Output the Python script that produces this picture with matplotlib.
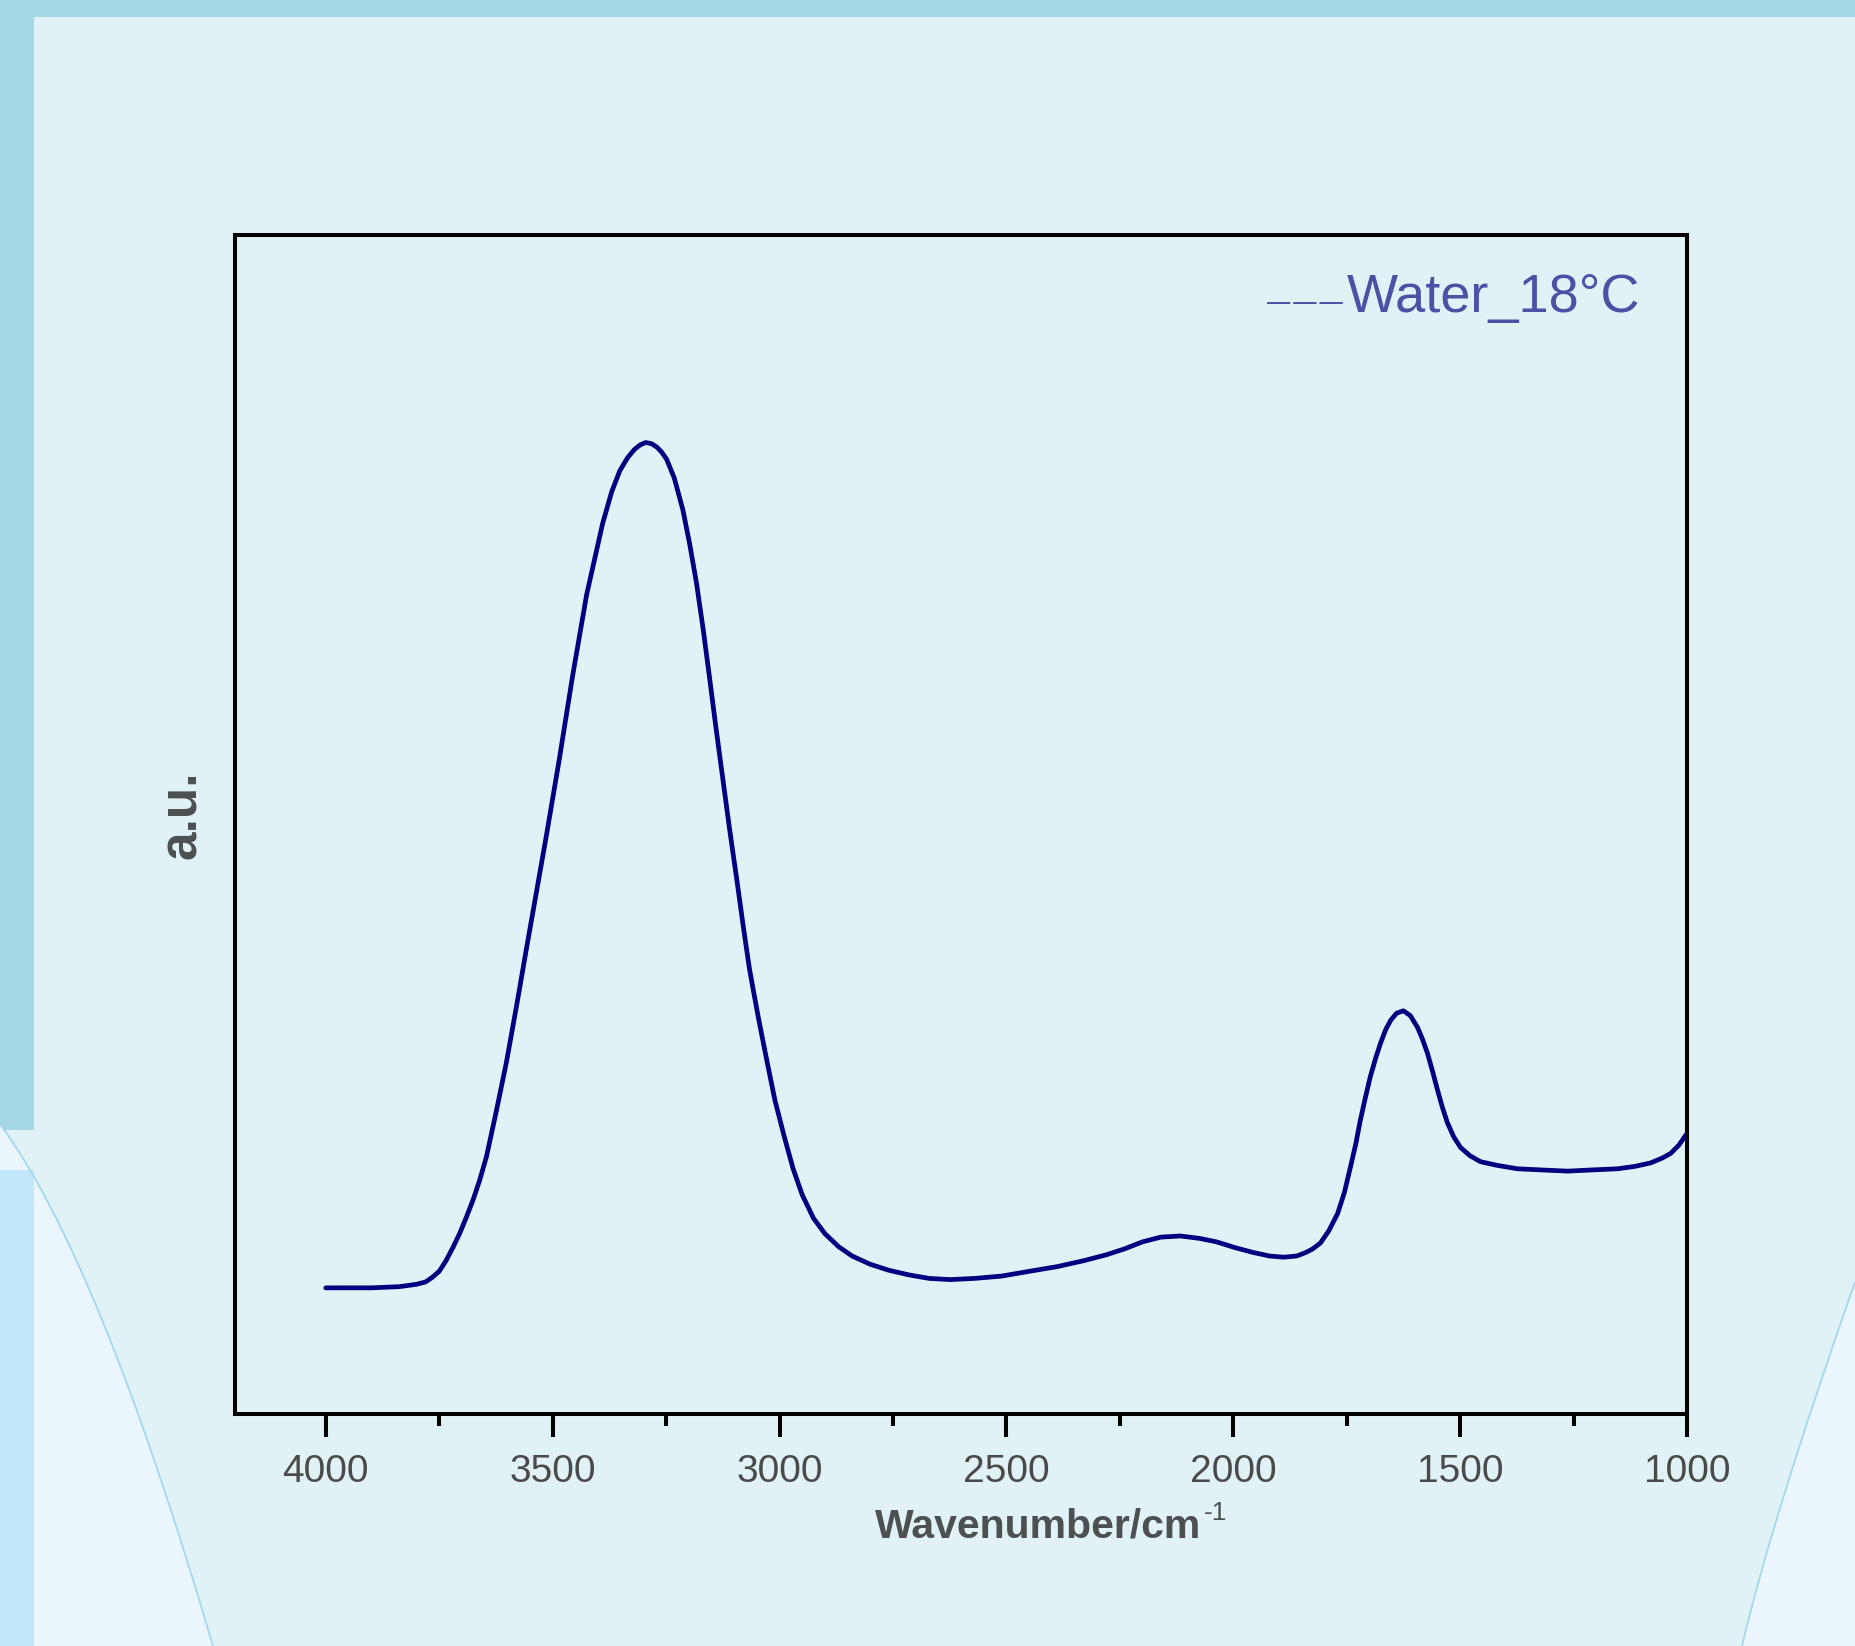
import matplotlib
matplotlib.use("Agg")
import matplotlib.pyplot as plt
from matplotlib.patches import PathPatch, Rectangle
from matplotlib.path import Path

# ---------------- data ----------------
wavenumber = [4000, 3900, 3838, 3800, 3780, 3765, 3750, 3735, 3720, 3705,
              3690, 3675, 3661, 3646, 3624, 3602, 3580, 3558, 3536, 3514,
              3485, 3456, 3425, 3390,
              3370, 3352, 3335, 3320, 3307, 3295, 3282, 3270, 3260, 3249,
              3232, 3213, 3198, 3183, 3168, 3154, 3140, 3125, 3110, 3094,
              3080, 3066, 3047, 3028, 3010, 2990, 2970, 2950, 2925, 2900,
              2870, 2840, 2800, 2760, 2715, 2670, 2624, 2570, 2510, 2450,
              2388, 2330, 2280, 2240, 2200, 2160, 2117, 2075, 2037, 1995,
              1956, 1920, 1889, 1860, 1840, 1825, 1808, 1790, 1770, 1755,
              1742, 1730, 1720, 1709, 1698, 1686, 1675, 1664, 1653, 1640,
              1625, 1610, 1594, 1583, 1572, 1561, 1550, 1539, 1528, 1514,
              1499, 1478, 1455, 1420, 1374, 1320, 1263, 1210, 1153, 1115,
              1080, 1055, 1036, 1018, 1000]
absorbance = [0.107, 0.107, 0.108, 0.110, 0.112, 0.116, 0.121, 0.130, 0.141, 0.153,
              0.167, 0.182, 0.198, 0.218, 0.257, 0.298, 0.345, 0.394, 0.442, 0.490,
              0.556, 0.626, 0.695, 0.755,
              0.782, 0.800, 0.811, 0.818, 0.822, 0.824, 0.823, 0.820, 0.816, 0.810,
              0.794, 0.767, 0.738, 0.705, 0.665, 0.624, 0.582, 0.539, 0.496, 0.453,
              0.414, 0.377, 0.337, 0.300, 0.266, 0.236, 0.208, 0.186, 0.166, 0.153,
              0.142, 0.134, 0.127, 0.122, 0.118, 0.115, 0.114, 0.115, 0.117, 0.121,
              0.125, 0.130, 0.135, 0.140, 0.146, 0.150, 0.151, 0.149, 0.146, 0.141,
              0.137, 0.134, 0.133, 0.134, 0.137, 0.140, 0.145, 0.155, 0.170, 0.188,
              0.209, 0.229, 0.249, 0.268, 0.286, 0.302, 0.315, 0.326, 0.334, 0.340,
              0.342, 0.338, 0.328, 0.318, 0.306, 0.291, 0.275, 0.260, 0.247, 0.235,
              0.226, 0.219, 0.214, 0.211, 0.208, 0.207, 0.206, 0.207, 0.208, 0.210,
              0.213, 0.217, 0.221, 0.228, 0.238]
x_ticks = [4000, 3500, 3000, 2500, 2000, 1500, 1000]
x_minor_ticks = [3750, 3250, 2750, 2250, 1750, 1250]
x_tick_labels = ["4000", "3500", "3000", "2500", "2000", "1500", "1000"]
series_label = "Water_18°C"
x_label = "Wavenumber/cm"
x_label_sup = "-1"
y_label = "a.u."

# ---------------- figure ----------------
W, H = 1855, 1646
DPI = 100
plt.rcParams['font.family'] = ['Liberation Sans', 'DejaVu Sans']
fig = plt.figure(figsize=(W / DPI, H / DPI), dpi=DPI)
fig.patch.set_facecolor('#e1f2f6')

# decorative background in pixel coordinates
bg = fig.add_axes([0, 0, 1, 1], zorder=0)
bg.set_xlim(0, W)
bg.set_ylim(H, 0)
bg.axis('off')
tex = '#a5d7e4'
bg.add_patch(Rectangle((0, 0), W, 17, color=tex, lw=0))
bg.add_patch(Rectangle((0, 0), 34, 1130, color=tex, lw=0))
edge_col = '#9fd6ec'
left_path = Path([(0, 1124), (99, 1258), (213, 1646), (0, 1646), (0, 1124)],
                 [Path.MOVETO, Path.CURVE3, Path.CURVE3, Path.LINETO, Path.CLOSEPOLY])
bg.add_patch(PathPatch(left_path, facecolor='#eaf6fc', edgecolor='none', lw=0))
bg.add_patch(Rectangle((0, 1170), 34, H - 1170, color='#bfe6f9', lw=0))
left_edge = Path([(0, 1124), (99, 1258), (213, 1646)],
                 [Path.MOVETO, Path.CURVE3, Path.CURVE3])
bg.add_patch(PathPatch(left_edge, facecolor='none', edgecolor=edge_col, lw=1.2))
right_path = Path([(1855, 1282), (1772, 1518), (1742, 1646), (1855, 1646), (1855, 1282)],
                  [Path.MOVETO, Path.CURVE3, Path.CURVE3, Path.LINETO, Path.CLOSEPOLY])
bg.add_patch(PathPatch(right_path, facecolor='#eaf6fc', edgecolor='none', lw=0))
right_edge = Path([(1855, 1282), (1772, 1518), (1742, 1646)],
                  [Path.MOVETO, Path.CURVE3, Path.CURVE3])
bg.add_patch(PathPatch(right_edge, facecolor='none', edgecolor=edge_col, lw=1.2))

# main axes
L, R, T, B = 235, 1687, 235, 1414
ax = fig.add_axes([L / W, 1 - B / H, (R - L) / W, (B - T) / H], zorder=2)
ax.patch.set_alpha(0)

ax.plot(wavenumber, absorbance, color='#000080', lw=3.4,
        solid_joinstyle='round', solid_capstyle='round')

ax.set_xlim(4200, 1000)
ax.set_ylim(0, 1)
ax.set_xticks(x_ticks)
ax.set_xticklabels(x_tick_labels)
ax.set_xticks(x_minor_ticks, minor=True)
ax.set_yticks([])
for s in ax.spines.values():
    s.set_linewidth(2.9)
    s.set_color('black')
ax.tick_params(axis='x', which='major', direction='out', length=16.5, width=2.9,
               labelsize=28, labelcolor='#4a4a4a', pad=12)
ax.tick_params(axis='x', which='minor', direction='out', length=8.5, width=2.9)
ax.tick_params(top=False, right=False, left=False)

# axis labels
xl = fig.text(875 / W, 1 - 1538 / H, x_label, fontsize=29.5, fontweight='bold',
              color='#4d5050', ha='left', va='baseline')
ax.annotate(x_label_sup, xy=(1, 1), xycoords=xl, xytext=(2, 5),
            textcoords='offset points', fontsize=19, color='#4d5050',
            ha='left', va='top')
fig.text(183 / W, 1 - 815 / H, y_label, fontsize=37, fontweight='bold',
         color='#4d5050', rotation=90, ha='center', va='center')

# legend (manual, matching the reference)
leg_color = '#4b52a6'
ax.plot([(1267 - L) / (R - L), (1345 - L) / (R - L)],
        [(B - 303) / (B - T)] * 2, transform=ax.transAxes, color=leg_color,
        lw=1.4, dashes=(12, 1.5), clip_on=False)
ax.text((1347 - L) / (R - L), (B - 298) / (B - T), series_label,
        transform=ax.transAxes, fontsize=39, color=leg_color,
        ha='left', va='center')

fig.savefig('out.png', dpi=DPI, facecolor=fig.get_facecolor())
